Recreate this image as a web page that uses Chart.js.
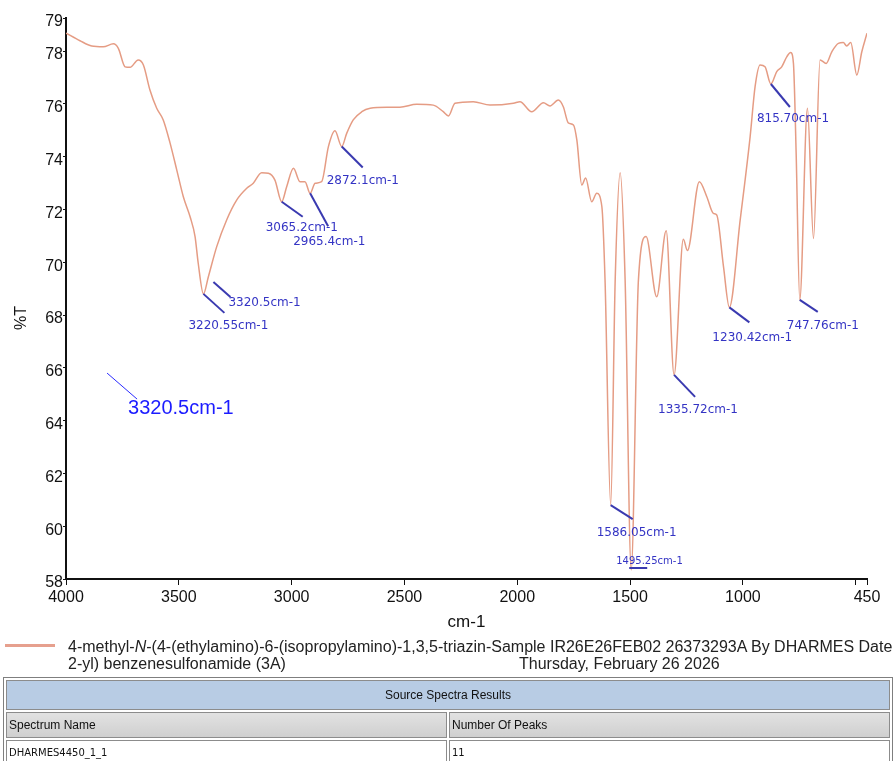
<!DOCTYPE html>
<html>
<head>
<meta charset="utf-8">
<title>IR spectrum</title>
<script src="https://cdn.jsdelivr.net/npm/chart.js@4.4.1/dist/chart.umd.min.js"></script>
<style>
    body { margin: 0; background: #fff; }
    #wrap { position: relative; width: 896px; height: 761px; overflow: hidden; }
    #irChart { position: absolute; left: 0; top: 0; }
    .legend { position: absolute; left: 0; top: 638px; width: 896px; font-family: "Liberation Sans", Arial, sans-serif; font-size: 16px; color: #222; white-space: nowrap; }
    .legend .swatch { position: absolute; left: 5px; top: 6px; width: 50px; height: 3px; background: #e6a08e; }
    .legend .line1 { position: absolute; left: 68px; top: 0; }
    .legend .line2 { position: absolute; left: 68px; top: 17px; }
    .legend .date { position: absolute; left: 519px; top: 17px; }
    table.results { position: absolute; left: 3px; top: 677px; width: 890px; border: 1px solid #7f7f7f; border-spacing: 2px; font-family: "Liberation Sans", Arial, sans-serif; font-size: 12px; color: #111; }
    table.results td { border: 1px solid #8c8c8c; padding: 0 2px; }
    table.results .title { background: #b8cce4; height: 28px; text-align: center; }
    table.results .head td { background: linear-gradient(#e2e2e2, #cfcfcf); height: 24px; }
    table.results .row td { height: 22px; font-family: "DejaVu Sans", sans-serif; font-size: 10px; }
</style>
</head>
<body>
<div id="wrap">
    <canvas id="irChart" width="896" height="640"></canvas>
    <div class="legend">
        <div class="swatch"></div>
        <div class="line1">4-methyl-<i>N</i>-(4-(ethylamino)-6-(isopropylamino)-1,3,5-triazin-Sample IR26E26FEB02 26373293A By DHARMES Date</div>
        <div class="line2">2-yl) benzenesulfonamide (3A)</div>
        <div class="date">Thursday, February 26 2026</div>
    </div>
    <table class="results">
        <tr><td class="title" colspan="2">Source Spectra Results</td></tr>
        <tr class="head"><td style="width:50%">Spectrum Name</td><td>Number Of Peaks</td></tr>
        <tr class="row"><td>DHARMES4450_1_1</td><td>11</td></tr>
    </table>
</div>

<script>
// Spectrum trace: wavenumber (cm-1) and transmittance (%T)
const wavenumbers = [
    4000, 3938, 3886, 3835, 3790, 3768, 3738, 3716, 3680, 3657,
    3628, 3598, 3569, 3539, 3509, 3480, 3450, 3428, 3414, 3391,
    3369, 3332, 3288, 3243, 3199, 3170, 3133, 3103, 3074, 3044,
    3022, 2992, 2963, 2941, 2918, 2896, 2867, 2837, 2808, 2778,
    2756, 2727, 2689, 2652, 2578, 2520, 2446, 2372, 2328, 2305,
    2276, 2195, 2121, 2017, 1988, 1936, 1884, 1855, 1818, 1796,
    1774, 1751, 1736, 1714, 1697, 1670, 1648, 1625, 1611, 1586,
    1566, 1544, 1522, 1495, 1463, 1429, 1382, 1340, 1305, 1264,
    1246, 1193, 1160, 1131, 1116, 1086, 1060, 1012, 968, 946,
    924, 902, 876, 850, 828, 805, 788, 776, 764, 748,
    714, 687, 658, 631, 606, 577, 555, 540, 522, 495,
    473, 450
];
const transmittance = [
    78.68, 78.39, 78.19, 78.16, 78.27, 78.10, 77.40, 77.38, 77.66, 77.47,
    76.52, 75.83, 75.39, 74.52, 73.49, 72.48, 71.72, 70.97, 69.96, 68.80,
    69.45, 70.59, 71.60, 72.36, 72.80, 72.99, 73.39, 73.37, 73.11, 72.29,
    72.86, 73.56, 73.05, 73.05, 72.61, 72.99, 73.05, 74.38, 74.98, 74.38,
    74.88, 75.39, 75.70, 75.83, 75.87, 75.87, 75.98, 75.95, 75.70, 75.54,
    76.02, 76.08, 75.95, 76.02, 76.08, 75.70, 76.04, 75.92, 76.14, 75.89,
    75.28, 75.20, 74.63, 72.92, 73.19, 72.29, 72.61, 72.10, 69.33, 60.80,
    69.33, 73.39, 69.33, 58.34, 69.33, 70.97, 68.69, 71.19, 65.73, 70.87,
    70.44, 73.05, 72.48, 71.85, 71.79, 69.83, 68.29, 71.60, 74.75, 76.65,
    77.47, 77.40, 76.75, 77.22, 77.40, 77.79, 77.94, 77.53, 74.13, 68.57,
    75.83, 70.90, 77.66, 77.53, 77.97, 78.29, 78.32, 78.19, 78.32, 77.09,
    77.97, 78.67
];

// Axis ticks
const xTicks = [4000, 3500, 3000, 2500, 2000, 1500, 1000, 500, 450];
const xHiddenTicks = [500];
const yTicks = [58, 60, 62, 64, 66, 68, 70, 72, 74, 76, 78];
const yTop = 79.25;
const yTitle = '%T';

// Peak picks: label text and the trace point each one hangs from
const peakLabels = ['3320.5cm-1', '3220.55cm-1', '3065.2cm-1', '2965.4cm-1', '2872.1cm-1',
    '1586.05cm-1', '1495.25cm-1', '1335.72cm-1', '1230.42cm-1', '747.76cm-1', '815.70cm-1'];
const peakAnchors = [3391, 3391, 3044, 2918, 2778, 1586, 1495, 1305, 1060, 748, 876];

// Loose note left on the plot
const looseNoteText = '3320.5cm-1';
const looseNoteAt = [3818, 65.8];

// leader line start/end and label (left, middle) as pixel offsets from the anchor
const noteLayout = [
    { from: [10, -12], to: [27, 3], label: [25, 9] },
    { from: [0, 0], to: [21, 19], label: [-15, 32] },
    { from: [0, 0], to: [21, 15], label: [-16, 26] },
    { from: [0, 0], to: [18, 33], label: [-17, 49] },
    { from: [0, 0], to: [21, 21], label: [-15, 34] },
    { from: [0, 0], to: [22, 14], label: [-14, 28] },
    { from: [-2, -2], to: [16, -2], label: [-15, -9], small: true },
    { from: [0, 0], to: [21, 22], label: [-16, 35] },
    { from: [0, 0], to: [20, 15], label: [-17, 31] },
    { from: [0, 0], to: [18, 12], label: [-13, 26] },
    { from: [0, 0], to: [19, 23], label: [-14, 35] }
];

const peakNotes = {
    id: 'peakNotes',
    afterDatasetsDraw(chart) {
        const ctx = chart.ctx;
        const xs = chart.scales.x, ys = chart.scales.y;
        ctx.save();
        ctx.textBaseline = 'middle';
        ctx.textAlign = 'left';
        peakLabels.forEach(function(text, i) {
            const k = wavenumbers.indexOf(peakAnchors[i]);
            const px = xs.getPixelForValue(wavenumbers[k]);
            const py = ys.getPixelForValue(transmittance[k]);
            const lay = noteLayout[i];
            ctx.strokeStyle = '#3a3ab0';
            ctx.lineWidth = 2;
            ctx.beginPath();
            ctx.moveTo(px + lay.from[0], py + lay.from[1]);
            ctx.lineTo(px + lay.to[0], py + lay.to[1]);
            ctx.stroke();
            ctx.fillStyle = '#3434c4';
            ctx.font = (lay.small ? '10px' : '12px') + ' "DejaVu Sans", sans-serif';
            ctx.fillText(text, px + lay.label[0], py + lay.label[1]);
        });

        const nx = xs.getPixelForValue(looseNoteAt[0]);
        const ny = ys.getPixelForValue(looseNoteAt[1]);
        ctx.strokeStyle = '#2a2aff';
        ctx.lineWidth = 1;
        ctx.beginPath();
        ctx.moveTo(nx, ny);
        ctx.lineTo(nx + 30, ny + 26);
        ctx.stroke();
        ctx.fillStyle = '#1c1cff';
        ctx.font = '20px "Liberation Sans", Arial, sans-serif';
        ctx.fillText(looseNoteText, nx + 21, ny + 35);

        // y axis title sits a little below the axis middle
        ctx.translate(22, 318);
        ctx.rotate(-Math.PI / 2);
        ctx.textAlign = 'center';
        ctx.fillStyle = '#111';
        ctx.font = '16px "Liberation Sans", Arial, sans-serif';
        ctx.fillText(yTitle, 0, 0);
        ctx.restore();
    }
};

const ctx = document.getElementById('irChart').getContext('2d');
new Chart(ctx, {
    type: 'line',
    data: {
        datasets: [{
            data: wavenumbers.map(function(w, i) { return { x: w, y: transmittance[i] }; }),
            borderColor: '#e59c84',
            borderWidth: 1.5,
            pointRadius: 0,
            cubicInterpolationMode: 'monotone',
            fill: false
        }]
    },
    options: {
        responsive: false,
        animation: false,
        layout: { padding: { top: 18, right: 29, left: 0, bottom: 0 } },
        plugins: {
            legend: { display: false },
            tooltip: { enabled: false }
        },
        scales: {
            x: {
                type: 'linear',
                reverse: true,
                min: 450,
                max: 4000,
                afterBuildTicks: function(scale) {
                    scale.ticks = xTicks.map(function(v) { return { value: v }; });
                },
                afterFit: function(scale) { scale.height = 61; },
                ticks: {
                    autoSkip: false,
                    maxRotation: 0,
                    padding: 3,
                    color: '#111',
                    font: { family: '"Liberation Sans", Arial, sans-serif', size: 16 },
                    callback: function(v) { return xHiddenTicks.indexOf(v) >= 0 ? '' : v; }
                },
                grid: { drawOnChartArea: false, tickLength: 6, color: '#111' },
                border: { color: '#111', width: 2 },
                title: {
                    display: true,
                    text: 'cm-1',
                    color: '#111',
                    font: { family: '"Liberation Sans", Arial, sans-serif', size: 17 },
                    padding: { top: 0, bottom: 7 }
                }
            },
            y: {
                min: 58,
                max: yTop,
                afterBuildTicks: function(scale) {
                    scale.ticks = yTicks.concat([yTop]).map(function(v) { return { value: v }; });
                },
                afterFit: function(scale) { scale.width = 66; },
                ticks: {
                    autoSkip: false,
                    padding: 0,
                    labelOffset: 4,
                    color: '#111',
                    font: { family: '"Liberation Sans", Arial, sans-serif', size: 16 },
                    callback: function(v) { return Math.floor(v); }
                },
                grid: { drawOnChartArea: false, tickLength: 3, color: '#111' },
                border: { color: '#111', width: 2 }
            }
        }
    },
    plugins: [peakNotes]
});
</script>
</body>
</html>
